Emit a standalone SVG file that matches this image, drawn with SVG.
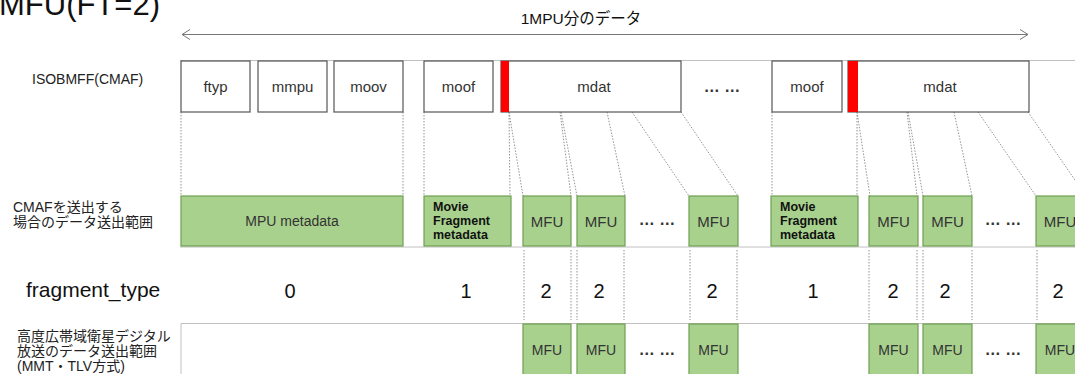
<svg xmlns="http://www.w3.org/2000/svg" width="1075" height="374" viewBox="0 0 1075 374">
<style>
.t{font-family:"Liberation Sans",Arial,sans-serif;}
.lbl{font-family:"Liberation Sans","Noto Sans CJK JP",sans-serif;font-size:14px;fill:#222;}
.box{fill:#fff;stroke:#555;stroke-width:1.2;}
.red{fill:#ff0000;}
.g{fill:#a9d18e;stroke:#6f9f50;stroke-width:1.2;}
.bt{font-family:"Liberation Sans",Arial,sans-serif;font-size:15px;fill:#333;text-anchor:middle;}
.bb{font-family:"Liberation Sans",Arial,sans-serif;font-size:14px;fill:#333;text-anchor:middle;}
.mf{font-family:"Liberation Sans",Arial,sans-serif;font-size:12.5px;font-weight:bold;fill:#111;}
.num{font-family:"Liberation Sans",Arial,sans-serif;font-size:20px;fill:#111;text-anchor:middle;}
.dots{font-family:"Liberation Sans",Arial,sans-serif;font-size:16px;font-weight:bold;fill:#333;text-anchor:middle;}
.dl{stroke:#888;stroke-width:0.9;stroke-dasharray:1.5 1.5;fill:none;}
.sep{stroke:#c0c0c0;stroke-width:1;fill:none;}
</style>
<defs>
<marker id="ah" markerWidth="10" markerHeight="12" refX="9" refY="6" orient="auto-start-reverse" markerUnits="userSpaceOnUse">
<path d="M1,1 L9,6 L1,11" fill="none" stroke="#777" stroke-width="1"/>
</marker>
</defs>
<rect width="1075" height="374" fill="#fff"/>

<text class="t" x="-1" y="15" font-size="31" fill="#111">MFU(FT=2)</text>

<g id="span-arrow">
<line x1="182" y1="34.5" x2="1028" y2="34.5" stroke="#777" stroke-width="1" marker-start="url(#ah)" marker-end="url(#ah)"/>
<text x="581" y="24" font-size="15.5" fill="#111" text-anchor="middle" font-family="Liberation Sans,Noto Sans CJK JP,sans-serif">1MPU分のデータ</text>
</g>

<g id="separators">
<line class="sep" x1="180" y1="60.5" x2="1075" y2="60.5"/>
<line class="sep" x1="180" y1="247" x2="1075" y2="247"/>
<line class="sep" x1="181" y1="323.5" x2="1075" y2="323.5"/>
<line class="sep" x1="181" y1="323.5" x2="181" y2="374"/>
</g>

<g id="row-labels">
<text class="t" x="32" y="84" font-size="14" fill="#222">ISOBMFF(CMAF)</text>
<text class="lbl" x="13" y="212">CMAFを送出する</text>
<text class="lbl" x="13" y="227">場合のデータ送出範囲</text>
<text class="t" x="26" y="297" font-size="21" fill="#111">fragment_type</text>
<text class="lbl" x="17" y="341">高度広帯域衛星デジタル</text>
<text class="lbl" x="17" y="356">放送のデータ送出範囲</text>
<text class="lbl" x="17" y="371">(MMT・TLV方式)</text>
</g>

<g id="connectors">
<line class="dl" x1="181" y1="112" x2="181" y2="196"/>
<line class="dl" x1="403" y1="112" x2="403" y2="196"/>
<line class="dl" x1="424" y1="112" x2="424" y2="196"/>
<line class="dl" x1="509" y1="112" x2="510" y2="196"/>
<line class="dl" x1="509" y1="112" x2="523" y2="196"/>
<line class="dl" x1="560" y1="112" x2="571" y2="196"/>
<line class="dl" x1="561" y1="112" x2="577" y2="196"/>
<line class="dl" x1="607" y1="112" x2="625" y2="196"/>
<line class="dl" x1="632" y1="112" x2="689" y2="196"/>
<line class="dl" x1="681" y1="112" x2="738" y2="196"/>
<line class="dl" x1="772" y1="112" x2="772" y2="196"/>
<line class="dl" x1="857" y1="112" x2="857" y2="196"/>
<line class="dl" x1="857" y1="112" x2="870" y2="196"/>
<line class="dl" x1="907" y1="112" x2="917" y2="196"/>
<line class="dl" x1="908" y1="112" x2="923" y2="196"/>
<line class="dl" x1="954" y1="112" x2="972" y2="196"/>
<line class="dl" x1="978" y1="112" x2="1036" y2="196"/>
<line class="dl" x1="1028" y1="112" x2="1086" y2="196"/>
<line class="dl" x1="524" y1="250" x2="524" y2="320"/>
<line class="dl" x1="571" y1="250" x2="571" y2="320"/>
<line class="dl" x1="577" y1="250" x2="577" y2="320"/>
<line class="dl" x1="624" y1="250" x2="624" y2="320"/>
<line class="dl" x1="690" y1="250" x2="690" y2="320"/>
<line class="dl" x1="737" y1="250" x2="737" y2="320"/>
<line class="dl" x1="869" y1="250" x2="869" y2="320"/>
<line class="dl" x1="917" y1="250" x2="917" y2="320"/>
<line class="dl" x1="923" y1="250" x2="923" y2="320"/>
<line class="dl" x1="972" y1="250" x2="972" y2="320"/>
<line class="dl" x1="1037" y1="250" x2="1037" y2="320"/>
</g>

<g id="ftyp"><rect class="box" x="181" y="61" width="69" height="51"/><text class="bt" x="215.5" y="92">ftyp</text></g>
<g id="mmpu"><rect class="box" x="258" y="61" width="69" height="51"/><text class="bt" x="292.5" y="92">mmpu</text></g>
<g id="moov"><rect class="box" x="334" y="61" width="69" height="51"/><text class="bt" x="368.5" y="92">moov</text></g>
<g id="moof1"><rect class="box" x="424" y="61" width="69" height="51"/><text class="bt" x="458.5" y="92">moof</text></g>
<g id="mdat1"><rect class="box" x="501" y="61" width="180" height="51"/><rect class="red" x="501" y="61" width="8" height="51"/><text class="bt" x="594" y="92">mdat</text></g>
<g id="dots-top"><text class="dots" x="722" y="92">… …</text></g>
<g id="moof2"><rect class="box" x="772" y="61" width="70" height="51"/><text class="bt" x="807" y="92">moof</text></g>
<g id="mdat2"><rect class="box" x="848" y="61" width="181" height="51"/><rect class="red" x="848" y="61" width="10" height="51"/><text class="bt" x="940" y="92">mdat</text></g>

<g id="mpu-metadata"><rect class="g" x="181" y="196" width="222" height="50"/><text class="t" x="292" y="226" font-size="14" fill="#333" text-anchor="middle">MPU metadata</text></g>
<g id="mf-metadata1"><rect class="g" x="424" y="196" width="87" height="50"/><text class="mf" x="433" y="211">Movie</text><text class="mf" x="433" y="225">Fragment</text><text class="mf" x="433" y="239">metadata</text></g>
<g id="mfu-c1"><rect class="g" x="523" y="196" width="48" height="50"/><text class="bt" x="547" y="226.5">MFU</text></g>
<g id="mfu-c2"><rect class="g" x="577" y="196" width="48" height="50"/><text class="bt" x="601" y="226.5">MFU</text></g>
<g id="dots-mid1"><text class="dots" x="657" y="225">… …</text></g>
<g id="mfu-c3"><rect class="g" x="689" y="196" width="49" height="50"/><text class="bt" x="713.5" y="226.5">MFU</text></g>
<g id="mf-metadata2"><rect class="g" x="771" y="196" width="87" height="50"/><text class="mf" x="780" y="211">Movie</text><text class="mf" x="780" y="225">Fragment</text><text class="mf" x="780" y="239">metadata</text></g>
<g id="mfu-c4"><rect class="g" x="869" y="196" width="49" height="50"/><text class="bt" x="893.5" y="226.5">MFU</text></g>
<g id="mfu-c5"><rect class="g" x="923" y="196" width="49" height="50"/><text class="bt" x="947.5" y="226.5">MFU</text></g>
<g id="dots-mid2"><text class="dots" x="1003" y="225">… …</text></g>
<g id="mfu-c6"><rect class="g" x="1036" y="196" width="48" height="50"/><text class="bt" x="1060" y="226.5">MFU</text></g>

<g id="fragment-types">
<text class="num" x="290" y="298">0</text>
<text class="num" x="466" y="298">1</text>
<text class="num" x="546" y="298">2</text>
<text class="num" x="599" y="298">2</text>
<text class="num" x="712" y="298">2</text>
<text class="num" x="813" y="298">1</text>
<text class="num" x="893" y="298">2</text>
<text class="num" x="945" y="298">2</text>
<text class="num" x="1058" y="298">2</text>
</g>

<g id="mfu-b1"><rect class="g" x="523" y="324" width="48" height="52"/><text class="bb" x="547" y="355">MFU</text></g>
<g id="mfu-b2"><rect class="g" x="577" y="324" width="48" height="52"/><text class="bb" x="601" y="355">MFU</text></g>
<g id="dots-bot1"><text class="dots" x="657" y="355">… …</text></g>
<g id="mfu-b3"><rect class="g" x="689" y="324" width="49" height="52"/><text class="bb" x="713.5" y="355">MFU</text></g>
<g id="mfu-b4"><rect class="g" x="869" y="324" width="49" height="52"/><text class="bb" x="893.5" y="355">MFU</text></g>
<g id="mfu-b5"><rect class="g" x="923" y="324" width="49" height="52"/><text class="bb" x="947.5" y="355">MFU</text></g>
<g id="dots-bot2"><text class="dots" x="1003" y="355">… …</text></g>
<g id="mfu-b6"><rect class="g" x="1036" y="324" width="48" height="52"/><text class="bb" x="1060" y="355">MFU</text></g>
</svg>
